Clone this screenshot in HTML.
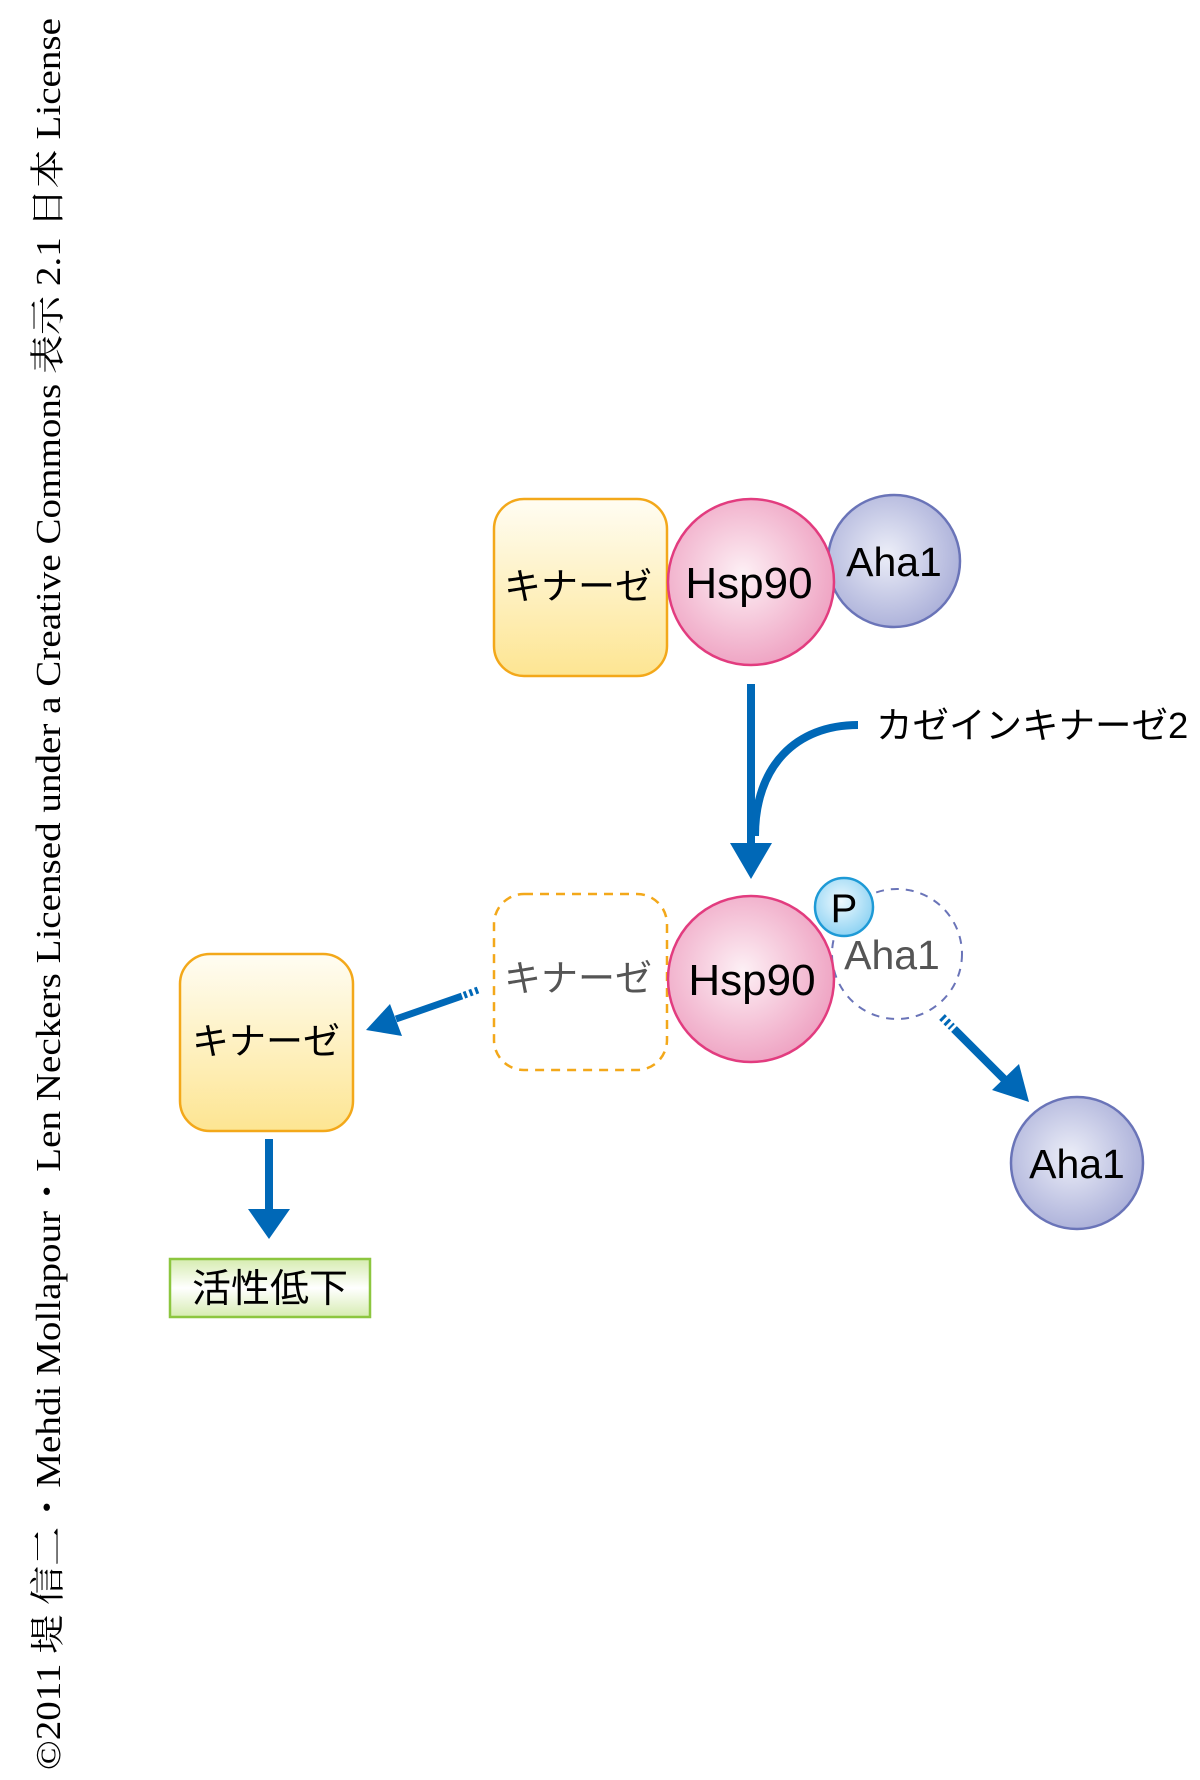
<!DOCTYPE html>
<html><head><meta charset="utf-8"><style>
html,body{margin:0;padding:0;background:#fff}
svg{display:block}
text{font-family:"Liberation Sans","Noto Sans CJK JP",sans-serif}
</style></head><body>
<svg width="1200" height="1780" viewBox="0 0 1200 1780" xmlns="http://www.w3.org/2000/svg">
<defs>
<linearGradient id="ky" x1="0" y1="0" x2="0" y2="1"><stop offset="0" stop-color="#fffdf3"/><stop offset="1" stop-color="#fde592"/></linearGradient>
<radialGradient id="pk" cx="0.45" cy="0.45" r="0.6"><stop offset="0" stop-color="#fdf0f5"/><stop offset="1" stop-color="#ee9fc0"/></radialGradient>
<radialGradient id="bl" cx="0.45" cy="0.45" r="0.6"><stop offset="0" stop-color="#eceef8"/><stop offset="1" stop-color="#a9aed8"/></radialGradient>
<radialGradient id="pp" cx="0.45" cy="0.4" r="0.6"><stop offset="0" stop-color="#eef9fe"/><stop offset="1" stop-color="#8fd3f3"/></radialGradient>
<linearGradient id="gr" x1="0" y1="0" x2="0" y2="1"><stop offset="0" stop-color="#d6ecb0"/><stop offset="0.5" stop-color="#ffffff"/><stop offset="1" stop-color="#d6ecb0"/></linearGradient>
</defs>

<text transform="translate(60,1770) rotate(-90)" font-size="35" textLength="1752" lengthAdjust="spacingAndGlyphs" style="font-family:'Liberation Serif','Noto Serif CJK SC',serif">©2011 堤 信二・Mehdi Mollapour・Len Neckers Licensed under a Creative Commons 表示 2.1 日本 License</text>

<g transform="translate(-4,-4)">
<rect x="498" y="503" width="173" height="177" rx="30" fill="url(#ky)" stroke="#f3a81a" stroke-width="2.5"/>
<text x="582" y="603" font-size="37" text-anchor="middle">キナーゼ</text>
<circle cx="898" cy="565" r="66" fill="url(#bl)" stroke="#6a74b8" stroke-width="2.5"/>
<text x="898" y="580" font-size="41" text-anchor="middle">Aha1</text>
<circle cx="755" cy="586" r="83" fill="url(#pk)" stroke="#e23c7f" stroke-width="2.5"/>
<text x="753" y="602" font-size="44" text-anchor="middle">Hsp90</text>

<path d="M755 688 V850" stroke="#0068b7" stroke-width="8" fill="none"/>
<path d="M862 729 C800 729 759 770 759 840" stroke="#0068b7" stroke-width="8" fill="none"/>
<polygon points="734,847 776,847 755,883" fill="#0068b7"/>
<text x="880" y="742" font-size="36.5">カゼインキナーゼ2</text>

<rect x="498" y="898" width="173" height="176" rx="30" fill="none" stroke="#f3a81a" stroke-width="2.5" stroke-dasharray="9,7"/>
<text x="582" y="995" font-size="37" text-anchor="middle" fill="#555">キナーゼ</text>
<circle cx="901" cy="958" r="65" fill="none" stroke="#6a74b8" stroke-width="2" stroke-dasharray="8,7"/>
<text x="896" y="973" font-size="41" text-anchor="middle" fill="#555">Aha1</text>
<circle cx="755" cy="983" r="83" fill="url(#pk)" stroke="#e23c7f" stroke-width="2.5"/>
<text x="756" y="999" font-size="44" text-anchor="middle">Hsp90</text>
<circle cx="848" cy="911" r="29" fill="url(#pp)" stroke="#1e9ad6" stroke-width="2.5"/>
<text x="848" y="926" font-size="40" text-anchor="middle">P</text>

<path d="M946 1021 L956 1031" stroke="#0068b7" stroke-width="8" stroke-dasharray="3,3"/>
<path d="M958 1033 L1012 1087" stroke="#0068b7" stroke-width="8"/>
<polygon points="996,1094 1023,1068 1033,1106" fill="#0068b7"/>
<circle cx="1081" cy="1167" r="66" fill="url(#bl)" stroke="#6a74b8" stroke-width="2.5"/>
<text x="1081" y="1182" font-size="41" text-anchor="middle">Aha1</text>

<path d="M482 994 L466 1000" stroke="#0068b7" stroke-width="7" stroke-dasharray="3,3"/>
<path d="M466 1000 L400 1023" stroke="#0068b7" stroke-width="7"/>
<polygon points="370,1034 394,1008 406,1040" fill="#0068b7"/>

<rect x="184" y="958" width="173" height="177" rx="30" fill="url(#ky)" stroke="#f3a81a" stroke-width="2.5"/>
<text x="270" y="1058" font-size="37" text-anchor="middle">キナーゼ</text>
<path d="M273 1143 V1215" stroke="#0068b7" stroke-width="8"/>
<polygon points="252,1213 294,1213 273,1243" fill="#0068b7"/>
<rect x="174" y="1263" width="200" height="58" fill="url(#gr)" stroke="#8cc63f" stroke-width="2.5"/>
<text x="274" y="1306" font-size="39" text-anchor="middle">活性低下</text>
</g>
</svg>
</body></html>
